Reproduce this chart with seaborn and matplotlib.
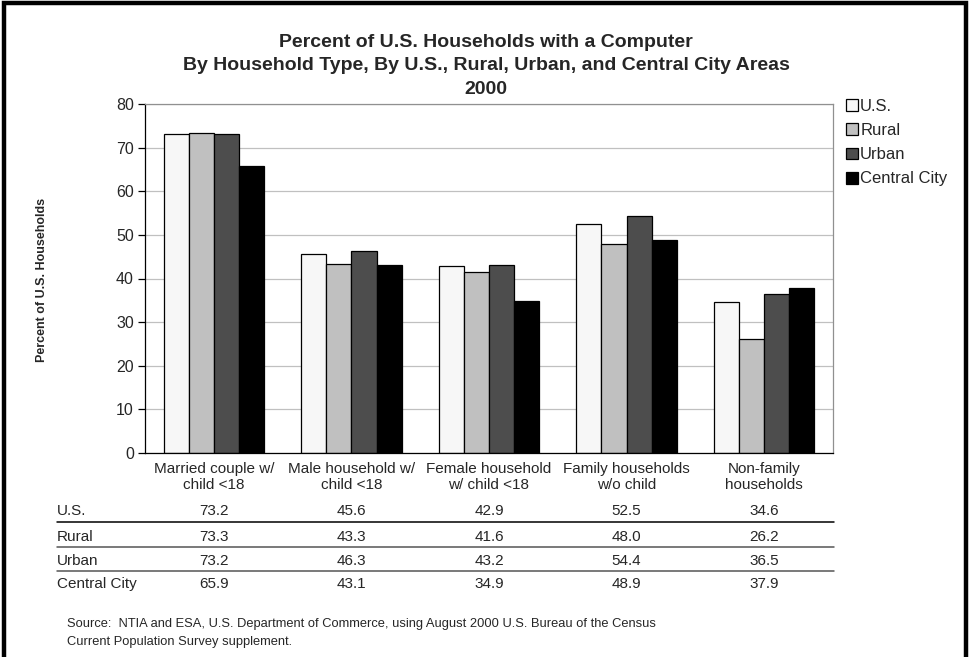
import numpy as np
import pandas as pd
import matplotlib
matplotlib.use("Agg")
import matplotlib.pyplot as plt
import seaborn as sns
from matplotlib.patches import Rectangle
from matplotlib.lines import Line2D

categories = ["Married couple w/\nchild <18", "Male household w/\nchild <18",
              "Female household\nw/ child <18", "Family households\nw/o child",
              "Non-family\nhouseholds"]
areas = ["U.S.", "Rural", "Urban", "Central City"]
us = [73.2, 45.6, 42.9, 52.5, 34.6]
rural = [73.3, 43.3, 41.6, 48.0, 26.2]
urban = [73.2, 46.3, 43.2, 54.4, 36.5]
central_city = [65.9, 43.1, 34.9, 48.9, 37.9]
bar_colors = ["#f7f7f7", "#c0c0c0", "#4d4d4d", "#000000"]

series = [us, rural, urban, central_city]
rows = []
for area, vals in zip(areas, series):
    for cat, v in zip(categories, vals):
        rows.append({"Category": cat, "Area": area, "Value": v})
df = pd.DataFrame(rows)

sns.set_style("white")
plt.rcParams["font.family"] = ["Liberation Sans", "DejaVu Sans"]

fig = plt.figure(figsize=(9.69, 6.57), dpi=100)
W, H = 969, 657
ax = fig.add_axes([145 / W, 1 - 453 / H, (833 - 145) / W, (453 - 104) / H])

sns.barplot(data=df, x="Category", y="Value", hue="Area", hue_order=areas,
            order=categories, palette=bar_colors, width=0.73,
            edgecolor="black", linewidth=0.9, saturation=1, ax=ax, legend=True)

ax.set_ylim(0, 80)
ax.set_yticks(range(0, 81, 10))
ax.set_xlim(-0.5, len(categories) - 0.5)
ax.yaxis.grid(True, color="#c0c0c0", linewidth=0.9)
ax.set_axisbelow(True)
ax.set_xlabel("")
ax.set_ylabel("")
ax.tick_params(axis="y", which="both", left=True, length=5, width=0.9, color="black",
               labelsize=11.5, pad=3)
ax.tick_params(axis="x", bottom=False, labelsize=11, pad=3)
for side in ["left", "bottom"]:
    ax.spines[side].set_color("black")
    ax.spines[side].set_linewidth(0.9)
for side in ["top", "right"]:
    ax.spines[side].set_visible(True)
    ax.spines[side].set_color("#909090")
    ax.spines[side].set_linewidth(0.9)

handles, labels = ax.get_legend_handles_labels()
ax.legend(handles, labels, loc="upper left", bbox_to_anchor=(846 / W, 1 - 99 / H),
          bbox_transform=fig.transFigure, frameon=False, fontsize=12,
          handlelength=0.7, handleheight=0.7, handletextpad=0.15,
          labelspacing=0.55, borderaxespad=0, borderpad=0)

fig.text(486 / W, 1 - 66 / H,
         "Percent of U.S. Households with a Computer\n"
         "By Household Type, By U.S., Rural, Urban, and Central City Areas\n2000",
         ha="center", va="center", fontsize=14, fontweight="bold",
         linespacing=1.47)
fig.text(42 / W, 1 - 280 / H, "Percent of U.S. Households", rotation=90,
         ha="center", va="center", fontsize=9, fontweight="bold")

# data table below the chart
row_y = [511, 537, 561, 584]
line_y = [522, 547, 571]
line_colors = ["black", "#555555", "#555555"]
xcenters = [ax.transData.transform((i, 0))[0] / W for i in range(len(categories))]
for area, vals, ry in zip(areas, series, row_y):
    fig.text(57 / W, 1 - ry / H, area, ha="left", va="center", fontsize=11)
    for xc, v in zip(xcenters, vals):
        fig.text(xc, 1 - ry / H, f"{v:.1f}", ha="center", va="center", fontsize=11)
for ly, lc in zip(line_y, line_colors):
    fig.add_artist(Line2D([57 / W, 834 / W], [1 - ly / H, 1 - ly / H],
                          color=lc, linewidth=1.1, transform=fig.transFigure))

fig.text(67 / W, 1 - 624 / H,
         "Source:  NTIA and ESA, U.S. Department of Commerce, using August 2000 U.S. Bureau of the Census",
         ha="left", va="center", fontsize=9.3)
fig.text(67 / W, 1 - 642 / H, "Current Population Survey supplement.",
         ha="left", va="center", fontsize=9.3)

# outer frame
fig.add_artist(Rectangle((4 / W, -0.05), (966 - 4) / W, 1.05 - 3 / H,
                         transform=fig.transFigure, fill=False,
                         edgecolor="black", linewidth=3.2))

fig.savefig("out.png", dpi=100)
